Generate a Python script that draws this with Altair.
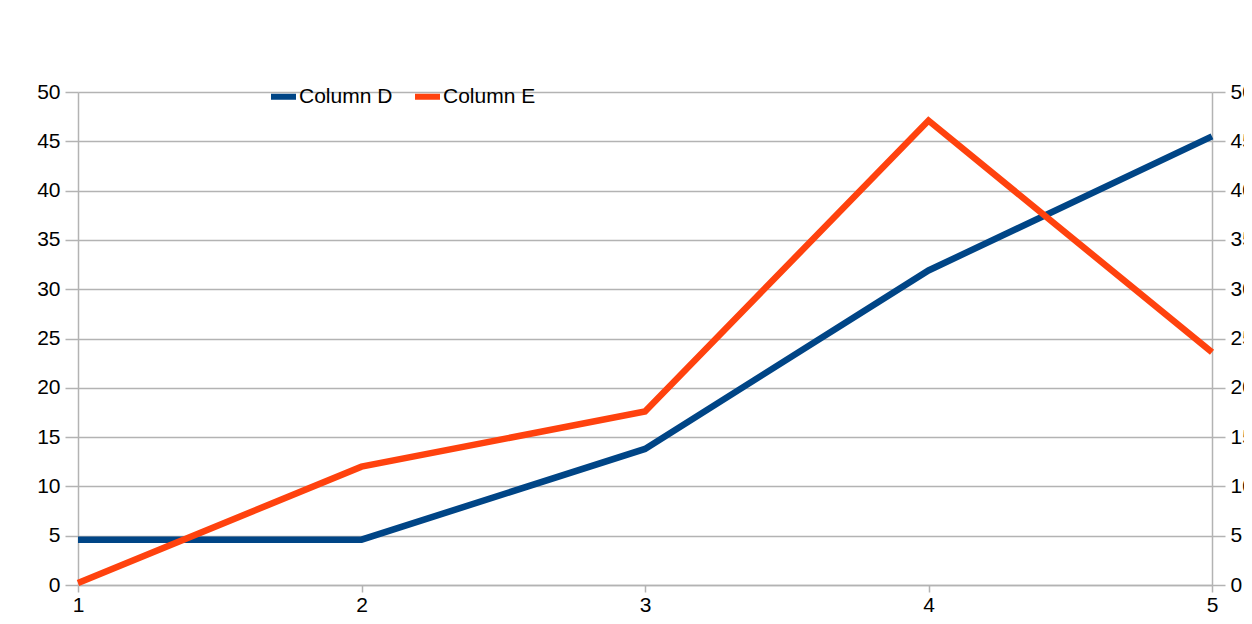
import altair as alt
import pandas as pd

x_vals = [1, 2, 3, 4, 5]
col_d = [4.6, 4.6, 13.8, 31.9, 45.5]
col_e = [0.2, 12.0, 17.6, 47.1, 23.6]
series_names = ["Column D", "Column E"]
series_colors = ["#004586", "#ff420e"]
y_ticks = list(range(0, 51, 5))

rows = []
for name, vals in zip(series_names, [col_d, col_e]):
    for xv, yv in zip(x_vals, vals):
        rows.append({"x": xv, "value": yv, "series": name})
df = pd.DataFrame(rows)

FONT = "Liberation Sans"
GRID = "#b3b3b3"

x_enc = alt.X(
    "x:Q",
    scale=alt.Scale(domain=[1, 5], nice=False, zero=False),
    axis=alt.Axis(
        title=None, values=x_vals, format="d", grid=False,
        domainColor=GRID, domainWidth=1.5, tickColor=GRID, tickWidth=1.5,
        tickSize=7, labelPadding=2, labelFontSize=21, labelFont=FONT,
        labelColor="black", labelFlush=False,
    ),
)

color_enc = alt.Color(
    "series:N",
    scale=alt.Scale(domain=series_names, range=series_colors),
    legend=alt.Legend(
        title=None, orient="none", legendX=190, legendY=-11,
        direction="horizontal", symbolType="stroke", symbolSize=625,
        symbolStrokeWidth=6, labelFontSize=21, labelFont=FONT,
        labelColor="black", labelOffset=0, columnPadding=10, padding=0,
    ),
)

left = alt.Chart(df).mark_line(strokeWidth=6.5, strokeJoin="miter").encode(
    x=x_enc,
    y=alt.Y(
        "value:Q",
        scale=alt.Scale(domain=[0, 50], nice=False),
        axis=alt.Axis(
            title=None, values=y_ticks, orient="left", grid=True,
            gridColor=GRID, gridWidth=1.5, domainColor=GRID, domainWidth=1.5,
            tickColor=GRID, tickWidth=1.5, tickSize=13, labelPadding=5,
            labelFontSize=21, labelFont=FONT, labelColor="black",
        ),
    ),
    color=color_enc,
)

right = alt.Chart(df).mark_line(strokeOpacity=0).encode(
    x=x_enc,
    y=alt.Y(
        "value:Q",
        scale=alt.Scale(domain=[0, 50], nice=False),
        axis=alt.Axis(
            title=None, values=y_ticks, orient="right", grid=False,
            domainColor=GRID, domainWidth=1.5, tickColor=GRID, tickWidth=1.5,
            tickSize=13, labelPadding=5, labelFontSize=21, labelFont=FONT,
            labelColor="black",
        ),
    ),
    detail="series:N",
)

chart = (
    alt.layer(left, right)
    .resolve_scale(y="independent")
    .properties(
        width=1134,
        height=493,
        autosize=alt.AutoSizeParams(type="none"),
        padding={"left": 70, "top": 84, "right": 32, "bottom": 30},
        background="white",
    )
    .configure_view(strokeWidth=0)
)

chart.save("out.html", embed_options={"renderer": "svg", "actions": False})
